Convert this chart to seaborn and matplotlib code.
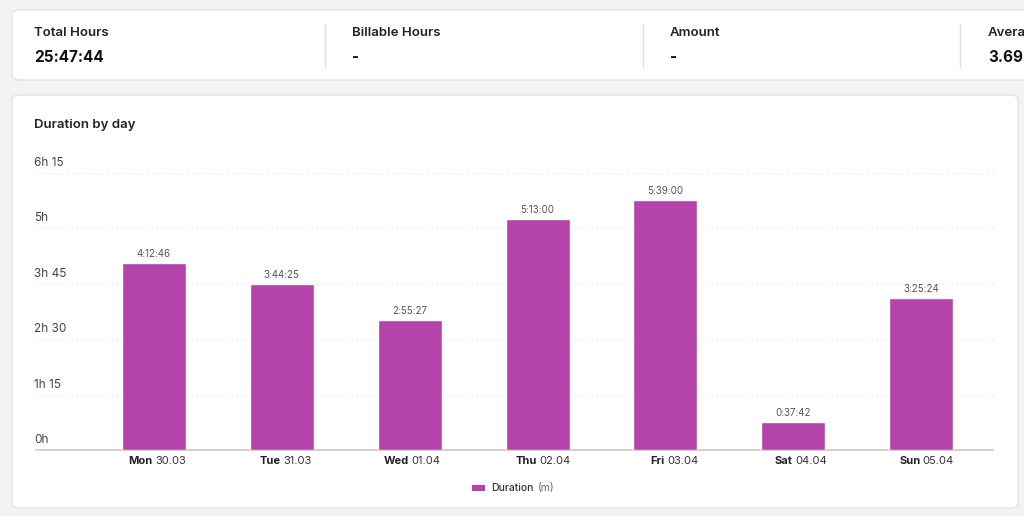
import pandas as pd
import seaborn as sns
import matplotlib.pyplot as plt
from matplotlib.patches import FancyBboxPatch, Rectangle

sns.set_theme(style='white')
plt.rcParams['font.family'] = ['Inter', 'DejaVu Sans']

days = ['Mon', 'Tue', 'Wed', 'Thu', 'Fri', 'Sat', 'Sun']
dates = ['30.03', '31.03', '01.04', '02.04', '03.04', '04.04', '05.04']
durations = ['4:12:46', '3:44:25', '2:55:27', '5:13:00', '5:39:00', '0:37:42', '3:25:24']
yticks = [0, 75, 150, 225, 300, 375]
ylabels = ['0h', '1h 15', '2h 30', '3h 45', '5h', '6h 15']
stats = ['Total Hours', 'Billable Hours', 'Amount', 'Average']
stat_values = ['25:47:44', '-', '-', '3.69']

def to_min(s):
    h, m, sec = s.split(':')
    return int(h) * 60 + int(m) + int(sec) / 60

df = pd.DataFrame({'day': days, 'minutes': [to_min(d) for d in durations]})
color = '#b444aa'

W, H = 1024, 516
fig = plt.figure(figsize=(W / 100, H / 100), dpi=100)
fig.patch.set_facecolor('#f3f3f3')

def card(x0, y0, x1, y1):
    fig.patches.append(FancyBboxPatch((x0 / W, 1 - y1 / H), (x1 - x0) / W, (y1 - y0) / H,
                                      boxstyle='round,pad=0,rounding_size=0.008',
                                      transform=fig.transFigure, facecolor='white',
                                      edgecolor='#e4e4e4', lw=1, zorder=-5))

card(12, 10, 1040, 80)
card(12, 95, 1018, 508)

xs = [34, 352, 670, 988]
for i, (lab, val) in enumerate(zip(stats, stat_values)):
    fig.text(xs[i] / W, 1 - 33 / H, lab, fontsize=9.5, fontweight='semibold', color='#222', va='center')
    fig.text(xs[i] / W, 1 - 57 / H, val, fontsize=11, fontweight='bold', color='#111', va='center')
for x in [325, 643, 960]:
    fig.add_artist(plt.Line2D([x / W, x / W], [1 - 24 / H, 1 - 68 / H], color='#e0e0e0', lw=1,
                              transform=fig.transFigure))

fig.text(34 / W, 1 - 125 / H, 'Duration by day', fontsize=9.5, fontweight='semibold', color='#222', va='center')

ax = fig.add_axes([36 / W, 1 - 450 / H, (993 - 36) / W, (450 - 173) / H])
ax.set_facecolor('none')
sns.barplot(data=df, x='day', y='minutes', color=color, width=0.5, saturation=1, ax=ax, zorder=3)
ax.set_xlim(-0.92, 6.56)
ax.set_ylim(0, 375)
ax.set_xlabel('')
ax.set_ylabel('')
for s in ['top', 'right', 'left']:
    ax.spines[s].set_visible(False)
ax.spines['bottom'].set_color('#cccccc')
ax.set_yticks([])
ax.set_xticks([])
for y in yticks[1:]:
    ax.axhline(y, color='#dddddd', lw=0.8, ls=(0, (1, 3)), zorder=1)

tr = ax.get_yaxis_transform()
for y, lab in zip(yticks, ylabels):
    ax.annotate(lab, (-0.002, y), xycoords=tr, xytext=(0, 10), textcoords='offset pixels',
                fontsize=8.5, color='#444', ha='left', va='center', annotation_clip=False)

for i, (m, lab) in enumerate(zip(df['minutes'], durations)):
    ax.annotate(lab, (i, m), xytext=(0, 9), textcoords='offset pixels',
                fontsize=7, color='#555', ha='center', va='center')
    ax.annotate(days[i], (i, 0), xytext=(-1, -11), textcoords='offset pixels',
                fontsize=8, fontweight='bold', color='#222', ha='right', va='center')
    ax.annotate(dates[i], (i, 0), xytext=(1.5, -11), textcoords='offset pixels',
                fontsize=8, color='#333', ha='left', va='center')

fig.patches.append(Rectangle((472 / W, 1 - 491 / H), 13 / W, 6 / H, transform=fig.transFigure,
                             facecolor=color, edgecolor='none'))
fig.text(491 / W, 1 - 488 / H, 'Duration', fontsize=7.5, fontweight='medium', color='#333', va='center')
fig.text(538 / W, 1 - 488 / H, '(m)', fontsize=7.5, color='#666', va='center')

fig.savefig('out.png', dpi=100, facecolor=fig.get_facecolor())
